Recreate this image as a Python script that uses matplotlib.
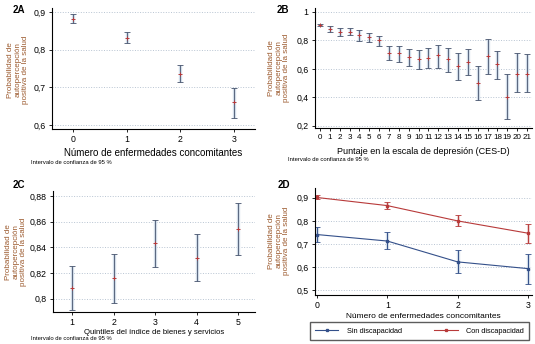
import matplotlib
matplotlib.use("Agg")
import matplotlib.pyplot as plt

plt.rcParams['font.family'] = ['Liberation Sans', 'DejaVu Sans']

# 2A: number of comorbidities
a_x = [0, 1, 2, 3]
a_val = [0.882, 0.832, 0.736, 0.660]
a_lo = [0.871, 0.819, 0.713, 0.618]
a_hi = [0.895, 0.846, 0.760, 0.699]

# 2B: CES-D score
b_x = list(range(22))
b_val = [0.906, 0.880, 0.859, 0.861, 0.835, 0.821, 0.800, 0.715, 0.711, 0.682, 0.666,
         0.675, 0.694, 0.666, 0.617, 0.647, 0.501, 0.689, 0.631, 0.405, 0.567, 0.567]
b_lo = [0.899, 0.861, 0.833, 0.838, 0.795, 0.786, 0.758, 0.659, 0.647, 0.619, 0.598,
        0.605, 0.609, 0.576, 0.520, 0.555, 0.381, 0.565, 0.527, 0.245, 0.435, 0.435]
b_hi = [0.915, 0.901, 0.885, 0.885, 0.871, 0.852, 0.831, 0.762, 0.760, 0.739, 0.732,
        0.746, 0.767, 0.746, 0.711, 0.739, 0.621, 0.809, 0.725, 0.562, 0.711, 0.706]

# 2C: quintiles
c_x = [1, 2, 3, 4, 5]
c_val = [0.8083, 0.8159, 0.8431, 0.8320, 0.8543]
c_lo = [0.7913, 0.7965, 0.8247, 0.8135, 0.8338]
c_hi = [0.8252, 0.8346, 0.8611, 0.8501, 0.8743]

# 2D: comorbidities by disability
d_x = [0, 1, 2, 3]
d_sin = [0.741, 0.713, 0.623, 0.594]
d_sin_lo = [0.707, 0.677, 0.575, 0.526]
d_sin_hi = [0.775, 0.750, 0.673, 0.655]
d_con = [0.901, 0.866, 0.800, 0.747]
d_con_lo = [0.893, 0.850, 0.776, 0.706]
d_con_hi = [0.910, 0.880, 0.826, 0.788]

W, H = 535, 344
fig = plt.figure(figsize=(W / 100, H / 100), dpi=100)

ylab = "Probabilidad de\nautopercepción\npositiva de la salud"
lab_col = "#9c5a2e"
bar_col = "#46536d"
halo_col = "#d2dde9"
red = "#b83a3a"
blue = "#34508a"


def ax_at(l, t, r, b):
    ax = fig.add_axes([l / W, 1 - b / H, (r - l) / W, (b - t) / H])
    for s in ("top", "right"):
        ax.spines[s].set_visible(False)
    for s in ("left", "bottom"):
        ax.spines[s].set_linewidth(0.8)
    ax.tick_params(direction="out", length=2.5, width=0.6, labelsize=6.3, pad=2)
    ax.yaxis.grid(True, linestyle=":", color="#b8c4d2", linewidth=0.7)
    ax.set_axisbelow(True)
    return ax


def errs(val, lo, hi):
    return [[v - l for v, l in zip(val, lo)], [h - v for v, h in zip(val, hi)]]


def ci_plot(ax, x, val, lo, hi):
    yerr = errs(val, lo, hi)
    ax.errorbar(x, val, yerr=yerr, fmt="none", ecolor=halo_col, elinewidth=2.4, capsize=0)
    ax.errorbar(x, val, yerr=yerr, fmt="none", ecolor=bar_col, elinewidth=0.6,
                capsize=2, capthick=0.6)
    ax.plot(x, val, "+", color=red, ms=3, mew=0.7)


# --- 2A
ax = ax_at(52, 8, 255, 129)
ci_plot(ax, a_x, a_val, a_lo, a_hi)
ax.set_xlim(-0.4, 3.4)
ax.set_ylim(0.5894, 0.9106)
ax.set_xticks(a_x)
ax.set_yticks([0.6, 0.7, 0.8, 0.9])
ax.set_yticklabels(["0,6", "0,7", "0,8", "0,9"])
ax.set_xlabel("Número de enfermedades concomitantes", fontsize=7, labelpad=3)

# --- 2B
ax = ax_at(315, 8, 532, 128)
ci_plot(ax, b_x, b_val, b_lo, b_hi)
ax.set_xlim(-0.5, 21.5)
ax.set_ylim(0.184, 1.028)
ax.set_xticks(b_x)
ax.set_yticks([0.2, 0.4, 0.6, 0.8, 1.0])
ax.set_yticklabels(["0,2", "0,4", "0,6", "0,8", "1"])
ax.tick_params(axis="x", labelsize=5.8)
ax.set_xlabel("Puntaje en la escala de depresión (CES-D)", fontsize=6.5, labelpad=4)

# --- 2C
ax = ax_at(53, 191, 255, 312)
ci_plot(ax, c_x, c_val, c_lo, c_hi)
ax.set_xlim(0.54, 5.41)
ax.set_ylim(0.7896, 0.884)
ax.set_xticks(c_x)
ax.set_yticks([0.80, 0.82, 0.84, 0.86, 0.88])
ax.set_yticklabels(["0,8", "0,82", "0,84", "0,86", "0,88"])
ax.set_xlabel("Quintiles del índice de bienes y servicios", fontsize=5.6, labelpad=1)

# --- 2D
ax = ax_at(315, 188, 532, 295)
yerr_sin = errs(d_sin, d_sin_lo, d_sin_hi)
yerr_con = errs(d_con, d_con_lo, d_con_hi)
ax.errorbar(d_x, d_sin, yerr=yerr_sin, fmt="none", ecolor=halo_col, elinewidth=2.4)
ax.errorbar(d_x, d_con, yerr=yerr_con, fmt="none", ecolor="#ecd2d2", elinewidth=2.2)
ax.errorbar(d_x, d_sin, yerr=yerr_sin, color=blue, lw=0.8, marker="s", ms=2.0,
            elinewidth=0.7, capsize=2, capthick=0.6, label="Sin discapacidad")
ax.errorbar(d_x, d_con, yerr=yerr_con, color=red, lw=0.8, marker="s", ms=2.0,
            elinewidth=0.7, capsize=2, capthick=0.6, label="Con discapacidad")
ax.set_xlim(-0.03, 3.06)
ax.set_ylim(0.48, 0.942)
ax.set_xticks(d_x)
ax.set_yticks([0.5, 0.6, 0.7, 0.8, 0.9])
ax.set_yticklabels(["0,5", "0,6", "0,7", "0,8", "0,9"])
ax.set_xlabel("Número de enfermedades concomitantes", fontsize=6, labelpad=2)
handles, labels = ax.get_legend_handles_labels()
fig.legend([h[0] for h in handles], labels, loc="center",
           bbox_to_anchor=((310 + 529) / 2 / W, 1 - 331 / H), ncol=2, fontsize=5.3,
           frameon=True, fancybox=False, edgecolor="#333333", handlelength=3.2,
           handletextpad=1.2, columnspacing=4.3, borderpad=0.7, markerscale=0.7)

# y labels, panel tags and notes
for x, y in [(18, 70), (279, 68), (16, 252), (279, 241)]:
    fig.text(x / W, 1 - y / H, ylab, rotation=90, ha="center", va="center",
             fontsize=5.8, color=lab_col, linespacing=1.15)
for tag, x, y in [("2A", 13, 10), ("2B", 277, 10), ("2C", 13, 185), ("2D", 278, 185)]:
    fig.text(x / W, 1 - y / H, tag, fontsize=7, fontweight="bold", va="center")
for x, y in [(31, 163), (288, 160), (31, 338)]:
    fig.text(x / W, 1 - y / H, "Intervalo de confianza de 95 %", fontsize=4.2, va="center")

fig.savefig("out.png", dpi=100)
